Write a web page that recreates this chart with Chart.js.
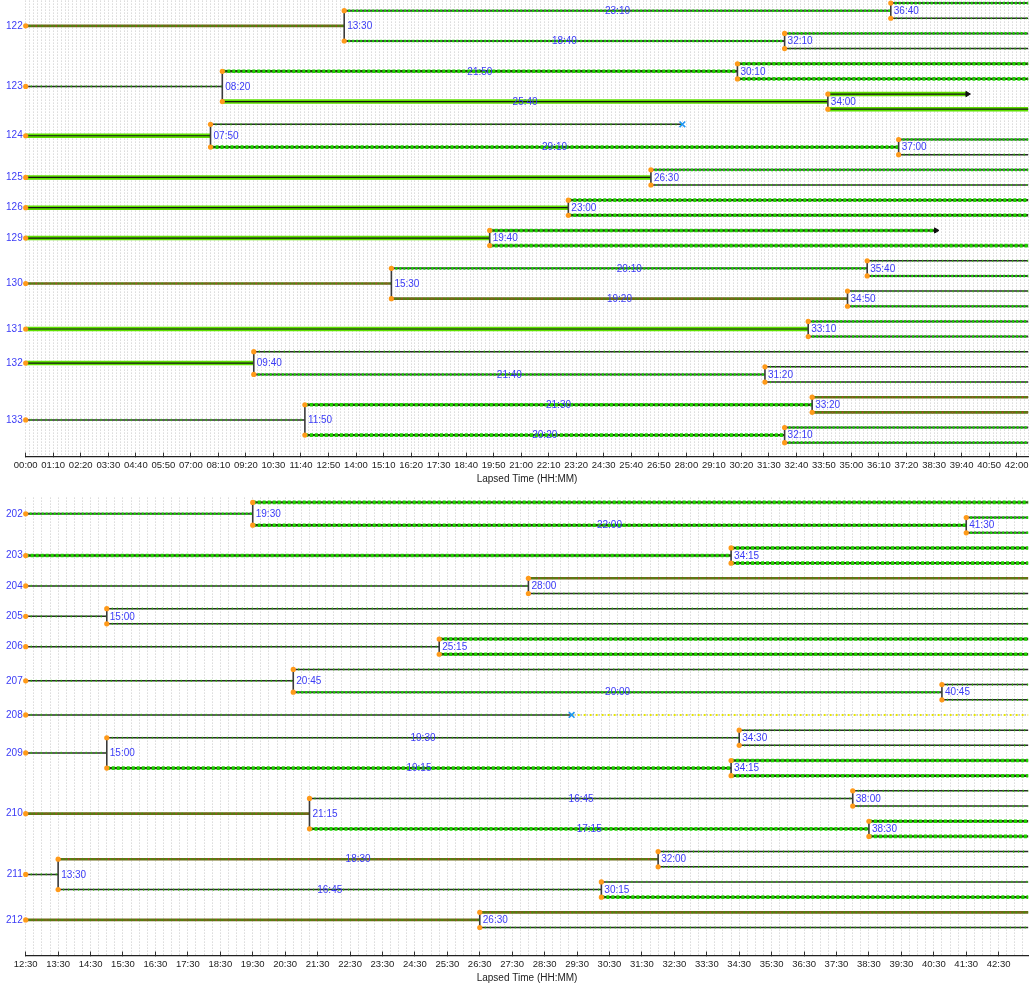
<!DOCTYPE html>
<html><head><meta charset="utf-8">
<script src="https://cdn.jsdelivr.net/npm/chart.js@4.4.1/dist/chart.umd.min.js"></script>
<style>
html,body{margin:0;padding:0;background:#fff;overflow:hidden;}
#w1{position:absolute;left:0;top:-5px;width:1034px;height:494px;}
#w2{position:absolute;left:0;top:492px;width:1034px;height:496px;}
</style></head><body>
<div id="w1"><canvas id="c1"></canvas></div>
<div id="w2"><canvas id="c2"></canvas></div>
<script>
// ================= DATA =================
// Tree notation: ['HH:MM', upper, lower] = division at that time;
// [] = cell alive until end of recording; ['x','HH:MM'] = cell death; ['>','HH:MM'] = track lost.
const topCells = ['122','123','124','125','126','129','130','131','132','133'];
const topTrees = [
  ['13:30', ['36:40', [], []], ['32:10', [], []]],
  ['08:20', ['30:10', [], []], ['34:00', ['>', '39:55'], []]],
  ['07:50', ['x', '27:50'], ['37:00', [], []]],
  ['26:30', [], []],
  ['23:00', [], []],
  ['19:40', ['>', '38:35'], []],
  ['15:30', ['35:40', [], []], ['34:50', [], []]],
  ['33:10', [], []],
  ['09:40', [], ['31:20', [], []]],
  ['11:50', ['33:20', [], []], ['32:10', [], []]]
];
const topStart = '00:00', topEnd = '42:30';
const topTickStep = 70, topGridStep = 10;

const bottomCells = ['202','203','204','205','206','207','208','209','210','211','212'];
const bottomTrees = [
  ['19:30', [], ['41:30', [], []]],
  ['34:15', [], []],
  ['28:00', [], []],
  ['15:00', [], []],
  ['25:15', [], []],
  ['20:45', [], ['40:45', [], []]],
  ['x', '29:20', 'trace'],
  ['15:00', ['34:30', [], []], ['34:15', [], []]],
  ['21:15', ['38:00', [], []], ['38:30', [], []]],
  ['13:30', ['32:00', [], []], ['30:15', [], []]],
  ['26:30', [], []]
];
const bottomStart = '12:30', bottomEnd = '43:25';
const bottomTickStep = 60, bottomGridStep = 15;
const axisTitle = 'Lapsed Time (HH:MM)';

// ================= STYLES (per branch, depth-first order) =================
const topBranchStyles = ['CBBDBBD','DEEEAAA','ADEBD','ABD','AEE','AEE','CBDBCDB','ABB','ADBDD','DECCEBB'];
const bottomBranchStyles = ['BEEBB','EEE','DCD','DDD','DEE','DDBDD','D','DDDDEEE','CDDDEEE','DCDDDDE','CCD'];
const STYLE = {
  A: [{c:'#5fe000', w:4.5}, {c:'#151515', w:1.2}],
  B: [{c:'#3a3a3a', w:2}, {c:'#19d400', w:2.6, d:[2,2]}],
  C: [{c:'#6c6a18', w:2.6}, {c:'#2fa800', w:1.6, d:[1,3]}, {c:'#c0392b', w:1.4, d:[1,9]}],
  D: [{c:'#2a2a2a', w:1.5}, {c:'#2ec800', w:2.2, d:[1,4]}],
  E: [{c:'#2a3a10', w:2.4}, {c:'#1ed400', w:3.6, d:[3,2]}]
};
const BLUE = '#3b3bf6';
const FONT = 'Liberation Sans';

// ================= HELPERS =================
const toMin = s => { const p = s.split(':').map(Number); return p[0]*60 + p[1]; };
const fmt = m => String(Math.floor(m/60)).padStart(2,'0') + ':' + String(m%60).padStart(2,'0');

function layout(trees, styles, startStr, endStr) {
  const t0 = toMin(startStr), tEnd = toMin(endStr);
  const branches = [], roots = [];
  let row = 0;
  function walk(node, start, st, idx, isRoot) {
    const br = {start, style: st[idx.i++], root: isRoot};
    branches.push(br);
    if (node.length === 0) { br.end = tEnd; br.fate = 'alive'; br.row = row++; }
    else if (node[0] === 'x' || node[0] === '>') {
      br.end = toMin(node[1]); br.fate = node[0]; br.trace = node[2] === 'trace'; br.row = row++;
    } else {
      br.end = toMin(node[0]); br.fate = 'div';
      br.upper = walk(node[1], br.end, st, idx, false);
      br.lower = walk(node[2], br.end, st, idx, false);
      br.row = (br.upper + br.lower) / 2;
    }
    return br.row;
  }
  trees.forEach((t, k) => { roots.push(walk(t, t0, styles[k], {i:0}, true)); });
  return {branches, roots, t0, tEnd, rows: row};
}

function makeChart(canvasId, trees, cells, styles, startStr, endStr, tickStep, gridStep, yMin, yMax) {
  const L = layout(trees, styles, startStr, endStr);
  const datasets = [];
  Object.keys(STYLE).forEach(key => {
    STYLE[key].forEach((layer, li) => {
      const data = [];
      L.branches.filter(b => b.style === key).forEach(b => {
        data.push({x:b.start, y:b.row}, {x:b.end, y:b.row}, {x:b.end, y:null});
      });
      if (data.length) datasets.push({data, showLine:true, spanGaps:false, borderColor:layer.c,
        borderWidth:layer.w, borderDash:layer.d || [], pointRadius:0, pointHitRadius:0,
        borderCapStyle:'butt', order:100 - li});
    });
  });
  // continued trace after death
  const trace = [];
  L.branches.filter(b => b.trace).forEach(b => trace.push({x:b.end, y:b.row}, {x:L.tEnd, y:b.row}, {x:L.tEnd, y:null}));
  if (trace.length) {
    datasets.push({data:trace, showLine:true, borderColor:'#e6e600', borderWidth:2, borderDash:[2,4], pointRadius:0, order:90});
    datasets.push({data:trace, showLine:true, borderColor:'#555', borderWidth:1, borderDash:[1,5], borderDashOffset:3, pointRadius:0, order:89});
  }
  // division connectors
  const conn = [];
  L.branches.filter(b => b.fate === 'div').forEach(b => conn.push({x:b.end, y:b.upper}, {x:b.end, y:b.lower}, {x:b.end, y:null}));
  datasets.push({data:conn, showLine:true, spanGaps:false, borderColor:'#3a3a3a', borderWidth:1.6, pointRadius:0, order:50});
  // start dots
  datasets.push({data:L.branches.map(b => ({x:b.start, y:b.row})), showLine:false, pointRadius:2.6,
    pointBackgroundColor:'#ff9a1a', pointBorderWidth:0, clip:false, order:10});
  // deaths
  const deaths = L.branches.filter(b => b.fate === 'x').map(b => ({x:b.end, y:b.row}));
  if (deaths.length) datasets.push({data:deaths, showLine:false, pointStyle:'crossRot', pointRadius:4,
    pointBorderColor:'#2196f3', pointBorderWidth:1.6, order:5});
  const lost = L.branches.filter(b => b.fate === '>').map(b => ({x:b.end, y:b.row}));
  if (lost.length) datasets.push({data:lost, showLine:false, pointStyle:'triangle', rotation:90, pointRadius:3,
    pointBackgroundColor:'#111', pointBorderColor:'#111', pointBorderWidth:1, order:5});

  const rootLabel = new Map();
  L.roots.forEach((r, i) => rootLabel.set(r, cells[i]));

  const labelPlugin = {
    id: 'labels',
    afterDatasetsDraw(chart) {
      const {ctx, scales:{x, y}} = chart;
      ctx.save();
      ctx.font = '10px "' + FONT + '"';
      ctx.fillStyle = BLUE;
      ctx.textBaseline = 'middle';
      L.branches.forEach(b => {
        if (b.fate !== 'div') return;
        ctx.textAlign = 'left';
        ctx.fillText(fmt(b.end), x.getPixelForValue(b.end) + 3, y.getPixelForValue(b.row) + 0.5);
        if (!b.root) {
          ctx.textAlign = 'center';
          ctx.fillText(fmt(b.end - b.start), x.getPixelForValue((b.start + b.end)/2), y.getPixelForValue(b.row) + 0.5);
        }
      });
      ctx.restore();
    }
  };

  return new Chart(document.getElementById(canvasId), {
    type: 'scatter',
    data: {datasets},
    plugins: [labelPlugin],
    options: {
      responsive: true, maintainAspectRatio: false, animation: false, devicePixelRatio: 1,
      layout: {padding: {top:0, right:2, bottom:0, left:0}},
      plugins: {legend:{display:false}, tooltip:{enabled:false}},
      events: [],
      scales: {
        x: {
          type:'linear', min:L.t0, max:L.tEnd,
          afterBuildTicks: s => { const t = []; for (let v = L.t0; v <= L.tEnd; v += gridStep) t.push({value:v}); s.ticks = t; },
          afterFit: s => { s.paddingLeft = 0; s.paddingRight = 0; },
          ticks: {autoSkip:false, maxRotation:0, minRotation:0, padding:7, color:'#222',
            font:{family:FONT, size:9.5},
            callback: v => ((v - L.t0) % tickStep === 0 ? fmt(v) : '')},
          grid: {color:'#c6c6c6', lineWidth:1, tickLength:-4, tickWidth:1,
            tickColor: c => (c.tick && (c.tick.value - L.t0) % tickStep === 0 ? '#333' : 'rgba(0,0,0,0)')},
          border: {display:true, color:'#222', width:1.3, dash:[1,2]},
          title: {display:true, text:axisTitle, color:'#222', font:{family:FONT, size:10}, padding:{top:-5, bottom:4}}
        },
        y: {
          type:'linear', reverse:true, min:yMin, max:yMax,
          afterBuildTicks: s => { s.ticks = L.roots.map(r => ({value:r})); },
          afterFit: s => { s.width = 25.7; s.paddingTop = 0; s.paddingBottom = 0; },
          ticks: {autoSkip:false, padding:3, color:BLUE, font:{family:FONT, size:10},
            callback: v => rootLabel.get(v) || ''},
          grid: {display:false, drawTicks:false},
          border: {display:false}
        }
      }
    }
  });
}

makeChart('c1', topTrees, topCells, topBranchStyles, topStart, topEnd, topTickStep, topGridStep, -0.165, 29.92);
makeChart('c2', bottomTrees, bottomCells, bottomBranchStyles, bottomStart, bottomEnd, bottomTickStep, bottomGridStep, -0.317, 29.85);
</script>
</body></html>
